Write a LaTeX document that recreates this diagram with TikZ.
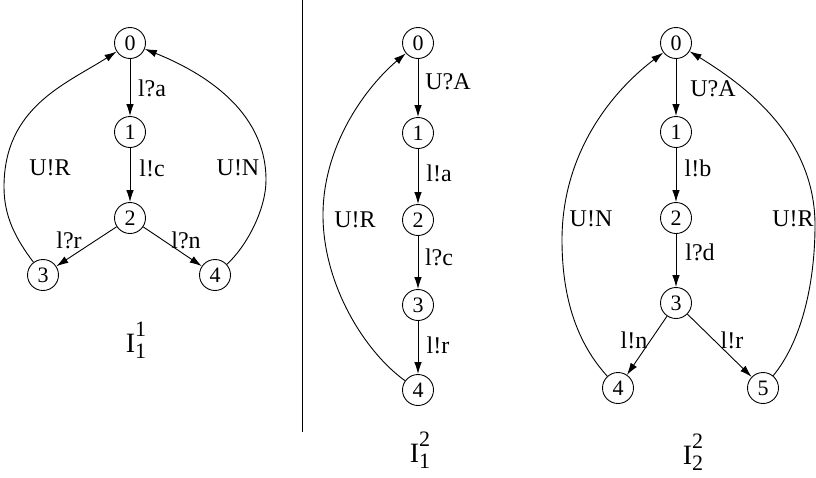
\documentclass[tikz,border=0pt]{standalone}
\usepackage{fontspec}
\setmainfont{Liberation Serif}
\usetikzlibrary{arrows.meta}
\tikzset{
  st/.style={draw, circle, minimum size=31pt, inner sep=0pt, line width=0.9pt, font=\fontsize{22}{22}\selectfont},
  lbl/.style={inner sep=0pt, font=\fontsize{24}{24}\selectfont},
  edge/.style={line width=0.9pt, -{Latex[length=12pt,width=7.5pt]}},
  ttl/.style={inner sep=0pt, font=\fontsize{28}{28}\selectfont}
}
\newcommand{\ilab}[2]{I\makebox[0pt][l]{\raisebox{16pt}{\fontsize{22}{22}\selectfont #1}}\raisebox{-6pt}{\fontsize{22}{22}\selectfont #2}}
\begin{document}
\begin{tikzpicture}[x=1pt,y=-1pt]
\useasboundingbox (0,0) rectangle (816,477);
% panel 1
\node[st] (a0) at (130,43) {0};
\node[st] (a1) at (130,132) {1};
\node[st] (a2) at (130,218) {2};
\node[st] (a3) at (43,275) {3};
\node[st] (a4) at (215,275) {4};
\draw[edge] (a0) -- (a1);
\draw[edge] (a1) -- (a2);
\draw[edge] (a2) -- (a3);
\draw[edge] (a2) -- (a4);
\coordinate (al) at (4,187);
\coordinate (ar) at (266,180);
\draw[edge] (a3) .. controls (16,239) and (4,217) .. (al) .. controls (4,107) and (66,84) .. (a0);
\draw[edge] (a4) .. controls (246,247) and (266,210) .. (ar) .. controls (266,110) and (202,72) .. (a0);
\node[lbl] (la) at (152,88) {l?a};
\node[lbl] (lb) at (152,168) {l!c};
\node[lbl] (lc) at (50,168) {U!R};
\node[lbl] (ld) at (238,168) {U!N};
\node[lbl] (le) at (69,240) {l?r};
\node[lbl] (lf) at (186,240) {l?n};
\node[ttl] (ta) at (136,340) {\ilab{1}{1}};
% separator
\coordinate (s0) at (302,0);
\coordinate (s1) at (302,432);
\draw[line width=0.9pt] (s0) -- (s1);
% panel 2
\node[st] (b0) at (418,43) {0};
\node[st] (b1) at (418,133) {1};
\node[st] (b2) at (418,220) {2};
\node[st] (b3) at (418,305) {3};
\node[st] (b4) at (418,390) {4};
\draw[edge] (b0) -- (b1);
\draw[edge] (b1) -- (b2);
\draw[edge] (b2) -- (b3);
\draw[edge] (b3) -- (b4);
\coordinate (bl) at (323,215);
\draw[edge] (b4) .. controls (365,352) and (323,285) .. (bl) .. controls (323,145) and (366,87) .. (b0);
\node[lbl] (lg) at (448,82) {U?A};
\node[lbl] (lh) at (439,173) {l!a};
\node[lbl] (li) at (439,257) {l?c};
\node[lbl] (lj) at (438,345) {l!r};
\node[lbl] (lk) at (355,220) {U!R};
\node[ttl] (tb) at (420,450) {\ilab{2}{1}};
% panel 3
\node[st] (c0) at (676,43) {0};
\node[st] (c1) at (676,132) {1};
\node[st] (c2) at (676,218) {2};
\node[st] (c3) at (676,303) {3};
\node[st] (c4) at (618,388) {4};
\node[st] (c5) at (763,388) {5};
\draw[edge] (c0) -- (c1);
\draw[edge] (c1) -- (c2);
\draw[edge] (c2) -- (c3);
\draw[edge] (c3) -- (c4);
\draw[edge] (c3) -- (c5);
\coordinate (cl) at (562,240);
\coordinate (cr) at (815,225);
\draw[edge] (c4) .. controls (578,344) and (562,300) .. (cl) .. controls (562,150) and (615,89) .. (c0);
\draw[edge] (c5) .. controls (801,342) and (815,285) .. (cr) .. controls (815,135) and (741,83) .. (c0);
\node[lbl] (lm) at (713,89) {U?A};
\node[lbl] (ln) at (698,168) {l!b};
\node[lbl] (lo) at (591,219) {U!N};
\node[lbl] (lp) at (793,219) {U!R};
\node[lbl] (lq) at (700,252) {l?d};
\node[lbl] (lr) at (634,340) {l!n};
\node[lbl] (ls) at (732,340) {l!r};
\node[ttl] (tc) at (693,452) {\ilab{2}{2}};
\end{tikzpicture}
\end{document}
